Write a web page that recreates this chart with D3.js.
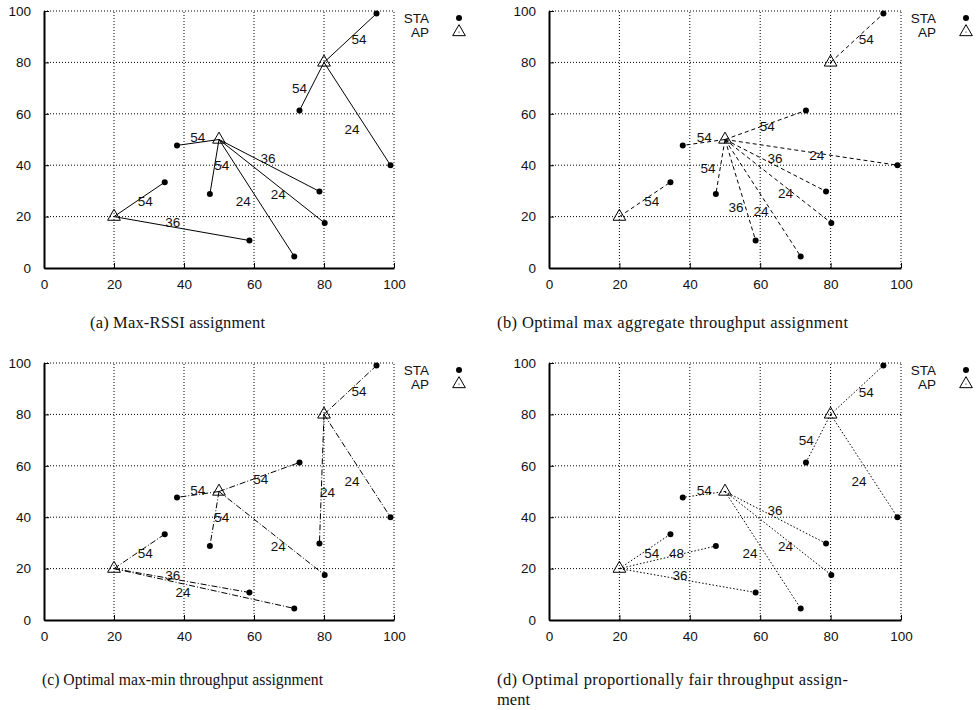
<!DOCTYPE html>
<html>
  <head>
    <meta charset="utf-8">
    <title>AP assignment</title>
    <script src="https://cdn.jsdelivr.net/npm/d3@7"></script>
    <style>
      body { margin: 0; background: white; }
      .tick text, .legend text, .rate {
        font-family: 'Liberation Sans', sans-serif;
        font-size: 13.5px;
        fill: #111;
      }
      .caption {
        font-family: 'Liberation Serif', serif;
        font-size: 16.5px;
        fill: #111;
      }
      .grid line {
        stroke: #000;
        stroke-dasharray: 1,2;
        stroke-width: 1;
      }
      .link { stroke: #000; stroke-width: 1; fill: none; }
    </style>
  </head>
  <body>
    <script>

      // station and access point positions
      var staX = [95, 73, 99, 38, 34.5, 47.4, 78.7, 80.2, 58.7, 71.5];
      var staY = [99, 61.3, 40, 47.7, 33.4, 28.8, 29.8, 17.5, 10.7, 4.5];
      var apX = [20, 50, 80];
      var apY = [20, 50, 80];
      var ticks = [0, 20, 40, 60, 80, 100];

      // (a) max-RSSI
      var apA = [2, 2, 2, 1, 0, 1, 1, 1, 0, 1];
      var rateA = [54, 54, 24, 54, 54, 54, 36, 24, 36, 24];
      var labXA = [90.0, 73.0, 88.0, 43.9, 28.9, 50.8, 64.0, 66.9, 36.8, 56.9];
      var labYA = [89.1, 70.0, 53.8, 51.0, 25.9, 39.8, 42.8, 28.8, 17.9, 25.9];

      // (b) max aggregate
      var apB = [2, 1, 1, 1, 0, 1, 1, 1, 1, 1];
      var rateB = [54, 54, 24, 54, 54, 54, 36, 24, 36, 24];
      var labXB = [90.1, 62.0, 76.1, 44.1, 29.2, 45.2, 64.2, 67.2, 53.1, 60.2];
      var labYB = [89.1, 55.0, 44.0, 51.0, 25.9, 38.9, 42.8, 29.1, 23.8, 21.9];

      // (c) max-min
      var apC = [2, 1, 2, 1, 0, 1, 2, 1, 0, 0];
      var rateC = [54, 54, 24, 54, 54, 54, 24, 24, 36, 24];
      var labXC = [90.0, 61.9, 88.0, 43.9, 28.9, 50.8, 81.0, 66.9, 36.8, 39.7];
      var labYC = [88.9, 54.8, 54.0, 50.6, 26.0, 40.0, 49.7, 28.6, 17.5, 10.8];

      // (d) proportionally fair
      var apD = [2, 2, 2, 1, 0, 0, 1, 1, 0, 1];
      var rateD = [54, 54, 24, 54, 54, 48, 36, 24, 36, 24];
      var labXD = [90.1, 73.1, 88.1, 44.1, 29.2, 36.2, 64.2, 67.2, 37.2, 57.1];
      var labYD = [88.8, 70.0, 53.9, 50.6, 26.0, 26.0, 42.6, 28.6, 17.5, 26.0];

      var panels = [
        { left: 44,  top: 11,  right: 394, bottom: 268, ap: apA, rate: rateA, lx: labXA, ly: labYA, dash: null },
        { left: 549, top: 11,  right: 901, bottom: 268, ap: apB, rate: rateB, lx: labXB, ly: labYB, dash: "4,3" },
        { left: 44,  top: 363, right: 394, bottom: 620, ap: apC, rate: rateC, lx: labXC, ly: labYC, dash: "6,2,1,2" },
        { left: 549, top: 363, right: 901, bottom: 620, ap: apD, rate: rateD, lx: labXD, ly: labYD, dash: "1.5,2" }
      ];

      var svg = d3.select("body").append("svg")
        .attr("width", 977)
        .attr("height", 710);

      var triangle = d3.symbol().type(d3.symbolTriangle).size(70);

      function drawAP(sel, x, y) {
        sel.append("path").attr("d", triangle)
          .attr("fill", "none").attr("stroke", "#000")
          .attr("transform", "translate(" + x + "," + y + ")");
        sel.append("circle").attr("cx", x).attr("cy", y).attr("r", 0.6);
      }

      panels.forEach(function(p) {
        var xScale = d3.scaleLinear().domain([0, 100]).range([p.left, p.right]);
        var yScale = d3.scaleLinear().domain([0, 100]).range([p.bottom, p.top]);
        var g = svg.append("g");

        var grid = g.append("g").attr("class", "grid");
        grid.selectAll(".gx").data(ticks.slice(1)).enter().append("line")
          .attr("x1", function(d) { return xScale(d); })
          .attr("x2", function(d) { return xScale(d); })
          .attr("y1", yScale(0)).attr("y2", yScale(100));
        grid.selectAll(".gy").data(ticks.slice(1)).enter().append("line")
          .attr("y1", function(d) { return yScale(d); })
          .attr("y2", function(d) { return yScale(d); })
          .attr("x1", xScale(0)).attr("x2", xScale(100));

        var xAxis = d3.axisBottom(xScale).tickValues(ticks).tickSizeInner(-5).tickSizeOuter(0).tickPadding(11);
        var yAxis = d3.axisLeft(yScale).tickValues(ticks).tickSizeInner(-5).tickSizeOuter(0).tickPadding(13);
        var xg = g.append("g").attr("transform", "translate(0," + p.bottom + ")").call(xAxis);
        var yg = g.append("g").attr("transform", "translate(" + p.left + ",0)").call(yAxis);
        [xg, yg].forEach(function(ax) {
          ax.select(".domain").attr("stroke-width", 2);
          ax.selectAll("text").attr("font-family", null).attr("font-size", null);
        });

        var links = p.ap.map(function(a, i) { return { sta: i, ap: a }; });
        g.selectAll(".link").data(links).enter().append("line")
          .attr("class", "link")
          .attr("stroke-dasharray", p.dash)
          .attr("x1", function(d) { return xScale(apX[d.ap]); })
          .attr("y1", function(d) { return yScale(apY[d.ap]); })
          .attr("x2", function(d) { return xScale(staX[d.sta]); })
          .attr("y2", function(d) { return yScale(staY[d.sta]); });

        g.selectAll(".sta").data(staX).enter().append("circle")
          .attr("cx", function(d) { return xScale(d); })
          .attr("cy", function(d, i) { return yScale(staY[i]); })
          .attr("r", 3);

        apX.forEach(function(d, i) { drawAP(g, xScale(d), yScale(apY[i])); });

        g.selectAll(".rate").data(p.rate).enter().append("text")
          .attr("class", "rate")
          .attr("text-anchor", "middle")
          .attr("dy", "0.35em")
          .attr("x", function(d, i) { return xScale(p.lx[i]); })
          .attr("y", function(d, i) { return yScale(p.ly[i]); })
          .text(function(d) { return d; });

        var legend = g.append("g").attr("class", "legend");
        legend.append("text").attr("x", p.right + 35).attr("y", p.top + 7).attr("dy", "0.35em")
          .attr("text-anchor", "end").text("STA");
        legend.append("text").attr("x", p.right + 35).attr("y", p.top + 21).attr("dy", "0.35em")
          .attr("text-anchor", "end").text("AP");
        legend.append("circle").attr("cx", p.right + 65).attr("cy", p.top + 7).attr("r", 3);
        drawAP(legend, p.right + 65, p.top + 21);
      });

      svg.append("text").attr("class", "caption").attr("x", 90).attr("y", 328)
        .attr("textLength", 175).attr("lengthAdjust", "spacing")
        .text("(a)  Max-RSSI assignment");
      svg.append("text").attr("class", "caption").attr("x", 497).attr("y", 328)
        .attr("textLength", 351).attr("lengthAdjust", "spacing")
        .text("(b)  Optimal max aggregate throughput assignment");
      svg.append("text").attr("class", "caption").attr("x", 42).attr("y", 685)
        .attr("textLength", 281).attr("lengthAdjust", "spacingAndGlyphs")
        .text("(c)  Optimal max-min throughput assignment");
      svg.append("text").attr("class", "caption").attr("x", 497).attr("y", 685)
        .attr("textLength", 351).attr("lengthAdjust", "spacing")
        .text("(d)  Optimal proportionally fair throughput assign-");
      svg.append("text").attr("class", "caption").attr("x", 497).attr("y", 705)
        .text("ment");

    </script>
  </body>
</html>
